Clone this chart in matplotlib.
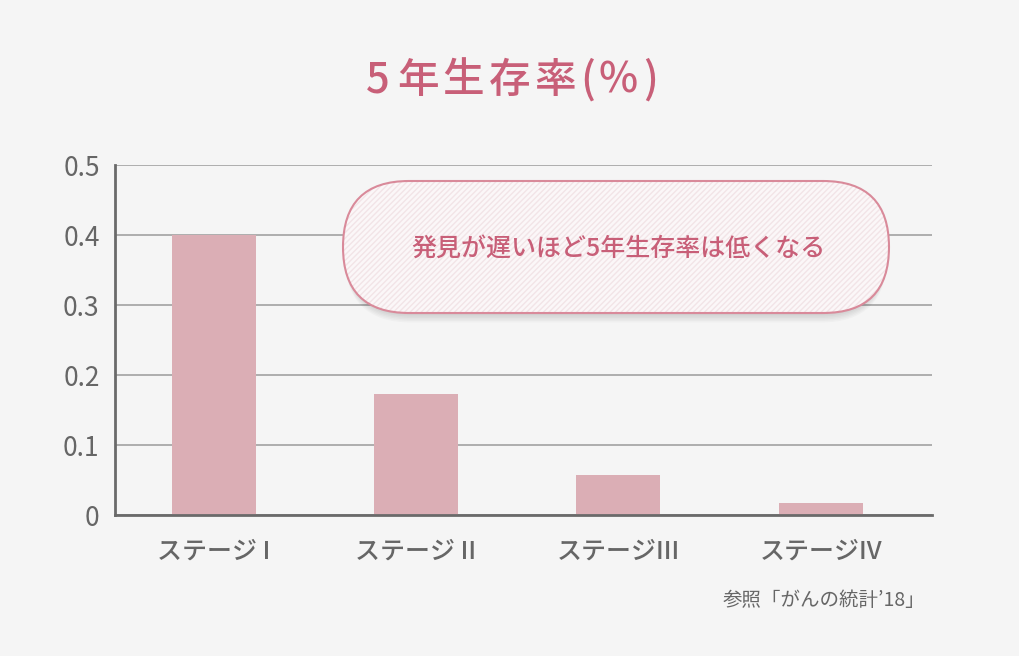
import matplotlib
matplotlib.use("Agg")
import matplotlib.pyplot as plt
from matplotlib.patches import FancyBboxPatch

plt.rcParams['font.family'] = ['Noto Sans CJK JP', 'DejaVu Sans']

# data
stage_labels = ['ステージ I', 'ステージ II', 'ステージIII', 'ステージIV']
survival = [0.40, 0.173, 0.057, 0.017]
yticks = [0, 0.1, 0.2, 0.3, 0.4, 0.5]
ytick_labels = ['0', '0.1', '0.2', '0.3', '0.4', '0.5']

title = '5年生存率(%)'
note = '発見が遅いほど5年生存率は低くなる'
source = '参照「がんの統計’18」'

bg = '#f5f5f5'
bar_col = '#dbaeb5'
pink = '#c85f78'
gray = '#666666'

fig = plt.figure(figsize=(10.2, 6.56), dpi=100, facecolor=bg)
ax = fig.add_axes([115/1020, 1 - 515/656, (932-115)/1020, 350/656])
ax.set_facecolor('none')

ax.bar(range(len(survival)), survival, width=0.415, color=bar_col, zorder=2)
ax.set_xlim(-0.487, 3.55)
ax.set_ylim(0, 0.5)
ax.set_yticks(yticks)
ax.set_yticklabels(ytick_labels, fontsize=19, color=gray)
ax.set_xticks(range(len(survival)))
ax.set_xticklabels(stage_labels, fontsize=18, color=gray, fontweight='medium')
ax.tick_params(axis='both', length=0)
ax.tick_params(axis='y', pad=11)
ax.tick_params(axis='x', pad=17)
ax.grid(axis='y', color='#a8a8a8', linewidth=1.3, zorder=1)
for s in ['top', 'right']:
    ax.spines[s].set_visible(False)
for s in ['left', 'bottom']:
    ax.spines[s].set_color('#6a6a6a')
    ax.spines[s].set_linewidth(2)
    ax.spines[s].set_zorder(3)

# title, spaced out one glyph at a time
title_x = [378, 418, 463, 510, 555, 588, 618, 651]
for ch, px in zip(title, title_x):
    fig.text(px / 1020, 1 - 80/656, ch, ha='center', va='center',
             fontsize=30, color=pink, fontweight='medium')
fig.text(925/1020, 1 - 601/656, source, ha='right', va='center', fontsize=14, color=gray)

# callout pill in pixel coordinates
ov = fig.add_axes([0, 0, 1, 1])
ov.set_xlim(0, 1020)
ov.set_ylim(656, 0)
ov.axis('off')
ov.patch.set_visible(False)
x0, y0, w, h = 343, 181, 546, 132
r = h / 2
pill = f'round,pad=0,rounding_size={r}'
for i in range(6):
    off = 2 + i * 1.5
    ov.add_patch(FancyBboxPatch((x0 + 2, y0 + off), w - 4, h, boxstyle=pill,
                                facecolor='#000000', edgecolor='none', alpha=0.025, zorder=4))
ov.add_patch(FancyBboxPatch((x0, y0), w, h, boxstyle=pill,
                            facecolor='#fbf7f8', edgecolor='none', zorder=5))
ov.add_patch(FancyBboxPatch((x0, y0), w, h, boxstyle=pill,
                            facecolor='none', edgecolor='#f2e4e7', hatch='//////',
                            linewidth=0, zorder=6))
ov.add_patch(FancyBboxPatch((x0, y0), w, h, boxstyle=pill,
                            facecolor='none', edgecolor='#d98a9a', linewidth=1.5, zorder=7))
ov.text(x0 + w/2 + 2, y0 + h/2 + 2, note, ha='center', va='center', fontsize=18,
        color=pink, fontweight='medium', zorder=8)

fig.savefig('out.png', dpi=100, facecolor=bg)
